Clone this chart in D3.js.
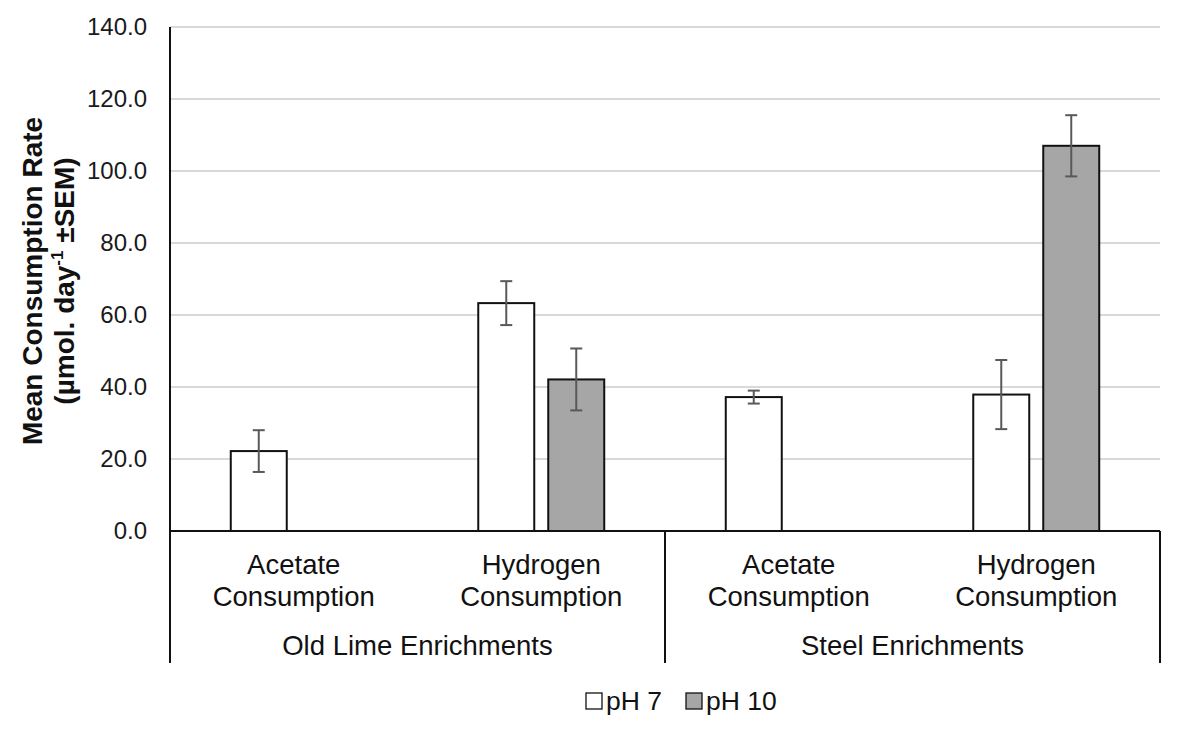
<!DOCTYPE html>
<html><head><meta charset="utf-8">
<script src="https://cdn.jsdelivr.net/npm/d3@7"></script>
<style>body{margin:0;background:#fff}svg{font-family:"Liberation Sans",Arial,sans-serif}</style>
</head><body><svg id="c" width="1181" height="736"></svg>
<script>
const groups = ["Old Lime Enrichments","Steel Enrichments"];
const categories = ["Acetate Consumption","Hydrogen Consumption"];
const seriesNames = ["pH 7","pH 10"];
const seriesColors = ["#ffffff","#a6a6a6"];
// values [group][category] per series (null = no bar)
const ph7Values = [[22.2,63.3],[37.2,37.9]];
const ph7Err    = [[5.8,6.1],[1.8,9.6]];
const ph10Values = [[null,42.1],[null,107.0]];
const ph10Err    = [[null,8.6],[null,8.5]];
const yTicks = [0,20,40,60,80,100,120,140];

const svg = d3.select("#c");
const L=170,R=1160,T=27,B=531;
const y = d3.scaleLinear().domain([0,140]).range([B,T]);
const cats = [];
groups.forEach((g,gi)=>categories.forEach((c,ci)=>cats.push({g,gi,c,ci,key:gi+"-"+ci})));
const x0 = d3.scaleBand().domain(cats.map(d=>d.key)).range([L,R]);
const bwBand = x0.bandwidth();
const x1 = d3.scaleBand().domain(seriesNames).range([bwBand*0.2455,bwBand*0.7545]).paddingInner(0.2).paddingOuter(0);

// gridlines
svg.append("g").selectAll("line").data(yTicks.filter(t=>t>0)).join("line")
  .attr("x1",L).attr("x2",R).attr("y1",d=>y(d)).attr("y2",d=>y(d))
  .attr("stroke","#d9d9d9").attr("stroke-width",2);

// y axis labels
const yAxis = d3.axisLeft(y).tickValues(yTicks).tickFormat(d3.format(".1f")).tickSize(0).tickPadding(23);
const ya = svg.append("g").attr("transform",`translate(${L},0)`).call(yAxis);
ya.select(".domain").remove();
ya.selectAll("text").attr("font-size",24).attr("fill","#1a1a1a").attr("font-family","Liberation Sans, Arial, sans-serif");

// bars
const series = [
  {name:seriesNames[0],vals:ph7Values,err:ph7Err,color:seriesColors[0]},
  {name:seriesNames[1],vals:ph10Values,err:ph10Err,color:seriesColors[1]}
];
const bars=[];
series.forEach(s=>cats.forEach(c=>{
  const v=s.vals[c.gi][c.ci]; if(v==null) return;
  bars.push({x:x0(c.key)+x1(s.name),v,e:s.err[c.gi][c.ci],color:s.color});
}));
const bw=x1.bandwidth();
svg.append("g").selectAll("rect").data(bars).join("rect")
  .attr("x",d=>d.x).attr("width",bw).attr("y",d=>y(d.v)).attr("height",d=>B-y(d.v))
  .attr("fill",d=>d.color).attr("stroke","#111").attr("stroke-width",2);
const eg=svg.append("g").attr("stroke","#595959").attr("stroke-width",2);
bars.forEach(d=>{
  const cx=d.x+bw/2;
  eg.append("line").attr("x1",cx).attr("x2",cx).attr("y1",y(d.v+d.e)).attr("y2",y(d.v-d.e));
  eg.append("line").attr("x1",cx-6).attr("x2",cx+6).attr("y1",y(d.v+d.e)).attr("y2",y(d.v+d.e));
  eg.append("line").attr("x1",cx-6).attr("x2",cx+6).attr("y1",y(d.v-d.e)).attr("y2",y(d.v-d.e));
});

// axes lines
const ax=svg.append("g").attr("stroke","#111").attr("stroke-width",2);
ax.append("line").attr("x1",L).attr("x2",L).attr("y1",T).attr("y2",663);
ax.append("line").attr("x1",L).attr("x2",R).attr("y1",B).attr("y2",B);
const mid=x0(cats[2].key);
ax.append("line").attr("x1",mid).attr("x2",mid).attr("y1",B).attr("y2",663);
ax.append("line").attr("x1",R).attr("x2",R).attr("y1",B).attr("y2",663);

// category labels
const tl=svg.append("g").attr("font-size",27.5).attr("fill","#111").attr("text-anchor","middle");
cats.forEach(c=>{
  const cx=x0(c.key)+x0.bandwidth()/2;
  const parts=c.c.split(" ");
  tl.append("text").attr("x",cx).attr("y",574).text(parts[0]);
  tl.append("text").attr("x",cx).attr("y",606).text(parts[1]);
});
groups.forEach((g,gi)=>{
  const cx=(x0(gi+"-0")+x0(gi+"-1")+x0.bandwidth())/2;
  tl.append("text").attr("x",cx).attr("y",655).text(g);
});

// y title
svg.append("text").attr("transform",`translate(42,281) rotate(-90)`).attr("font-size",28).attr("font-weight","bold").attr("fill","#111").attr("text-anchor","middle").text("Mean Consumption Rate");
const t2=svg.append("text").attr("transform",`translate(74,281) rotate(-90)`).attr("font-size",28).attr("font-weight","bold").attr("fill","#111").attr("text-anchor","middle");
t2.append("tspan").text("(µmol. day");
t2.append("tspan").attr("font-size",17).attr("dy",-11).text("-1");
t2.append("tspan").attr("dy",11).text(" ±SEM)");

// legend
const lg=svg.append("g").attr("font-size",26.5).attr("fill","#111");
const legX=[586,686];
series.forEach((s,i)=>{
  lg.append("rect").attr("x",legX[i]).attr("y",693).attr("width",16).attr("height",16)
    .attr("fill",s.color).attr("stroke","#111").attr("stroke-width",1.3);
  lg.append("text").attr("x",legX[i]+20).attr("y",710).text(s.name);
});
</script></body></html>
